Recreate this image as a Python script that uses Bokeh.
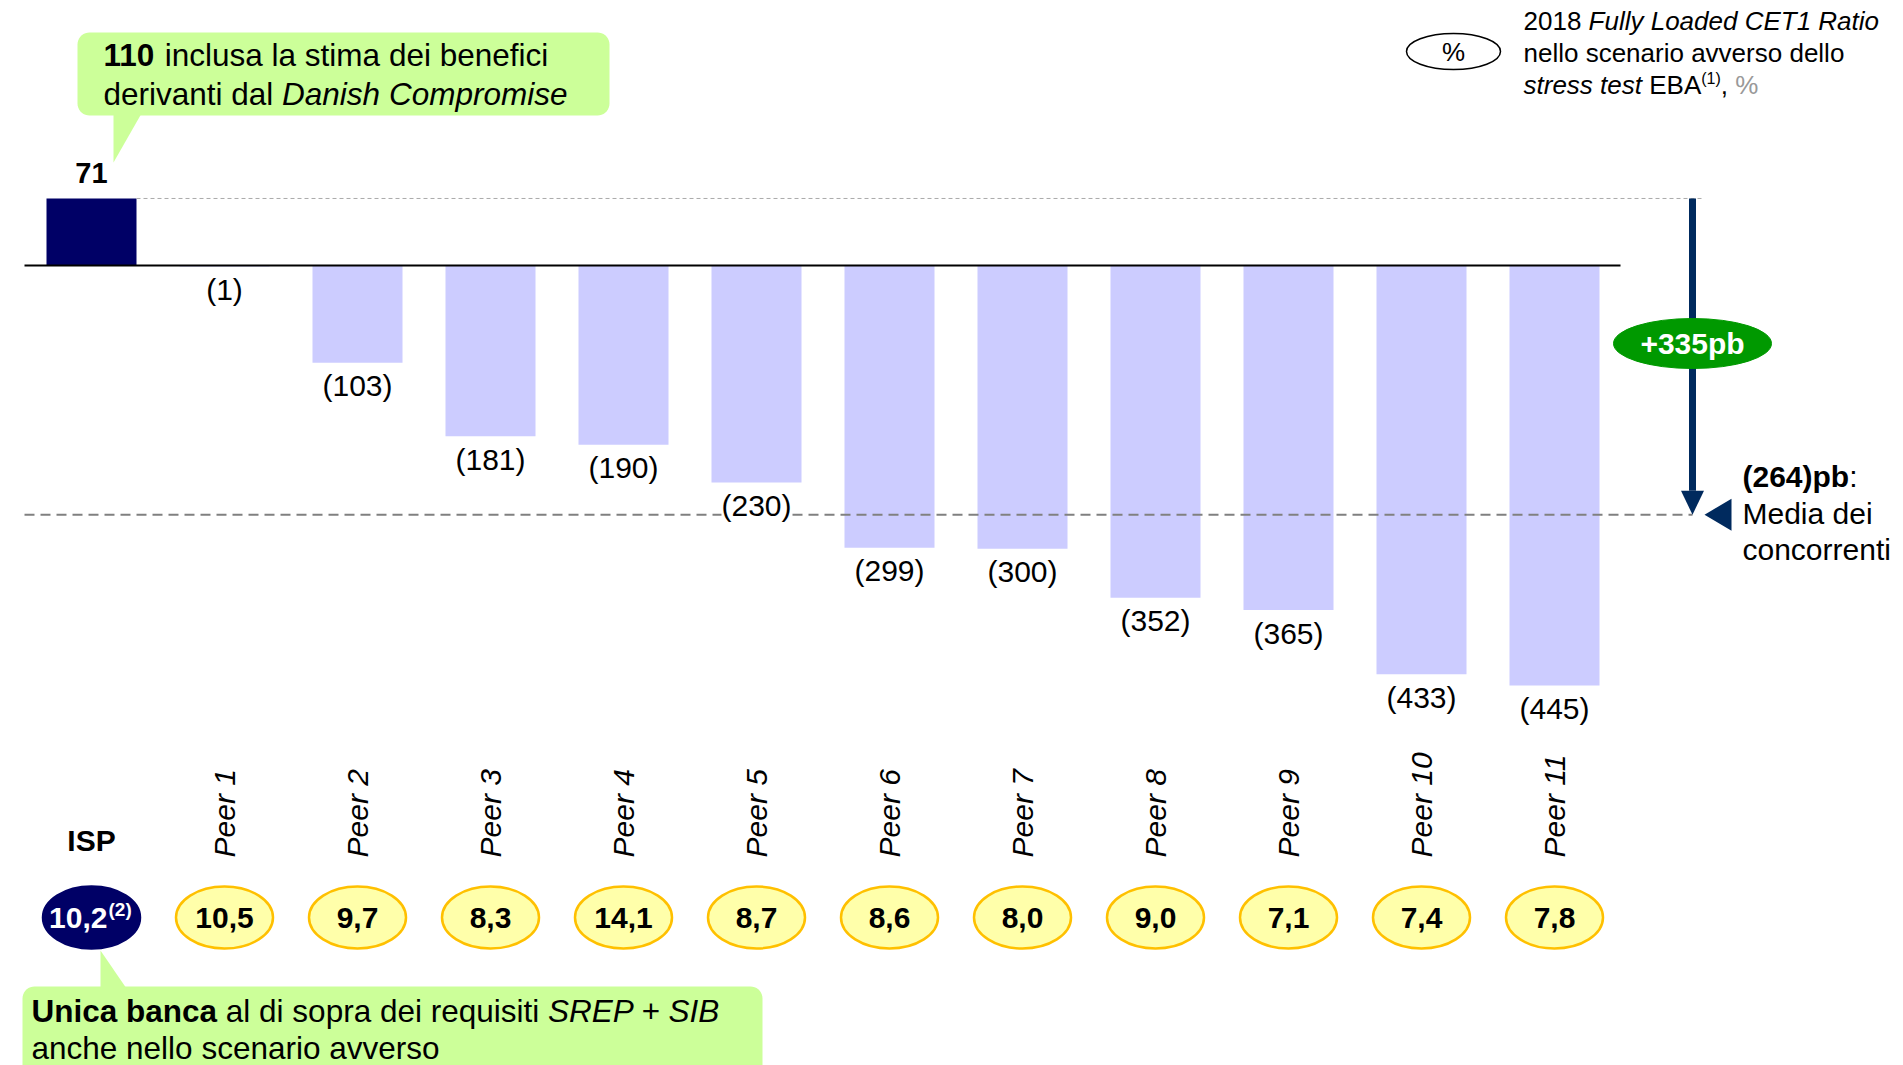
import numpy as np
from bokeh.plotting import figure
from bokeh.core.properties import value
from bokeh.models import ColumnDataSource
from bokeh.embed import file_html
from bokeh.resources import INLINE

# ---------------- data ----------------
categories = ["ISP", "Peer 1", "Peer 2", "Peer 3", "Peer 4", "Peer 5", "Peer 6",
              "Peer 7", "Peer 8", "Peer 9", "Peer 10", "Peer 11"]
delta_bp = [71, -1, -103, -181, -190, -230, -299, -300, -352, -365, -433, -445]
cet1_ratio = ["10,2", "10,5", "9,7", "8,3", "14,1", "8,7", "8,6", "8,0", "9,0", "7,1", "7,4", "7,8"]
peer_avg_bp = -264
gap_bp = 335
danish_bp = 110

FONT = "Liberation Sans"
NAVY = "#000066"
PEER = "#CCCCFF"
ARROW = "#002A5E"
GREEN_BOX = "#CCFF99"

# ---------------- geometry ----------------
W, H = 1903, 1065
M = 0
X_PX = 133.0      # px per category
X0_PAGE = 91.0    # page x of first bar centre
Y_PX = 0.944      # px per bp
Y0_PAGE = 265.0   # page y of zero line

x_start = -(X0_PAGE - M) / X_PX
x_end = x_start + W / X_PX
y_end = (Y0_PAGE - M) / Y_PX
y_start = y_end - H / Y_PX


def dx(xp):
    return x_start + (xp - M) / X_PX


def dy(yp):
    return y_end - (yp - M) / Y_PX


def page_y(v):
    return Y0_PAGE - v * Y_PX


def corr(size):
    # empirical shift of rendered alphabetic baseline
    return 0.38 * size


p = figure(width=W, height=H, x_range=(x_start, x_end), y_range=(y_start, y_end),
           output_backend="svg", toolbar_location=None,
           x_axis_location=None, y_axis_location=None, min_border=0,
           outline_line_color=None, background_fill_color="white",
           border_fill_color="white")
p.grid.visible = False

# ---------------- text helpers ----------------
REG = {' ': 278, '!': 278, '%': 889, '(': 333, ')': 333, '+': 584, ',': 278, '-': 333,
       '.': 278, ':': 278,
       'A': 667, 'B': 667, 'C': 722, 'D': 722, 'E': 667, 'F': 611, 'G': 778, 'H': 722,
       'I': 278, 'J': 500, 'K': 667, 'L': 556, 'M': 833, 'N': 722, 'O': 778, 'P': 667,
       'Q': 778, 'R': 722, 'S': 667, 'T': 611, 'U': 722, 'V': 667, 'W': 944, 'X': 667,
       'Y': 667, 'Z': 611,
       'a': 556, 'b': 556, 'c': 500, 'd': 556, 'e': 556, 'f': 278, 'g': 556, 'h': 556,
       'i': 222, 'j': 222, 'k': 500, 'l': 222, 'm': 833, 'n': 556, 'o': 556, 'p': 556,
       'q': 556, 'r': 333, 's': 500, 't': 278, 'u': 556, 'v': 500, 'w': 722, 'x': 500,
       'y': 500, 'z': 500}
BOLD = dict(REG)
BOLD.update({':': 333, 'A': 722, 'B': 722, 'L': 611, 'b': 611, 'c': 556, 'd': 611,
             'f': 333, 'g': 611, 'h': 611, 'i': 278, 'j': 278, 'k': 556, 'l': 278,
             'm': 889, 'n': 611, 'o': 611, 'p': 611, 'q': 611, 'r': 389, 's': 556,
             't': 333, 'u': 611, 'v': 556, 'w': 778, 'x': 556, 'y': 556})
for d in "0123456789":
    REG[d] = 556
    BOLD[d] = 556


def tw(s, size, bold=False):
    tab = BOLD if bold else REG
    return sum(tab.get(c, 556) for c in s) * size / 1000.0


def runs_text(x_page, y_page, runs):
    x = x_page
    for s, style, size, color, rise in runs:
        bold = style == "bold"
        lead = len(s) - len(s.lstrip())
        xs = x + tw(s[:lead], size, bold)
        p.text(x=[dx(xs)], y=[dy(y_page - rise - corr(size))], text=[s.strip()],
               text_align="left", text_baseline="alphabetic",
               text_font=value(FONT), text_font_style=style,
               text_font_size=f"{size}px", text_color=color)
        x += tw(s, size, bold)


def rounded_box(x0, y0, x1, y1, r, color):
    xs, ys = [], []
    corners = [(x1 - r, y0 + r, -90, 0), (x1 - r, y1 - r, 0, 90),
               (x0 + r, y1 - r, 90, 180), (x0 + r, y0 + r, 180, 270)]
    for cx, cy, a0, a1 in corners:
        t = np.radians(np.linspace(a0, a1, 10))
        xs.extend(cx + r * np.cos(t))
        ys.extend(cy + r * np.sin(t))
    p.patch([dx(v) for v in xs], [dy(v) for v in ys], fill_color=color, line_color=None)


def tri(pts, color):
    p.patch([dx(a) for a, b in pts], [dy(b) for a, b in pts], fill_color=color,
            line_color=None)


idx = list(range(len(categories)))

# ---------------- bars ----------------
src = ColumnDataSource(dict(x=idx, top=delta_bp,
                            color=[NAVY] + [PEER] * (len(idx) - 1)))
p.vbar(x="x", top="top", bottom=0, width=90 / X_PX, fill_color="color",
       line_color=None, source=src)

# reference lines
p.segment(x0=[dx(136)], y0=[delta_bp[0]], x1=[dx(1704)], y1=[delta_bp[0]],
          line_color="#AAAAAA", line_width=1, line_dash="4 3")
p.segment(x0=[dx(24)], y0=[peer_avg_bp], x1=[dx(1692)], y1=[peer_avg_bp],
          line_color="#808080", line_width=2, line_dash="10 6")
p.segment(x0=[dx(24)], y0=[0], x1=[dx(1620)], y1=[0], line_color="black", line_width=2)

# value labels
p.text(x=[0], y=[delta_bp[0]], text=[str(delta_bp[0])], text_align="center",
       text_baseline="alphabetic", y_offset=-25, text_font=value(FONT),
       text_font_style="bold", text_font_size="29px", text_color="black")
neg_src = ColumnDataSource(dict(x=idx[1:], y=delta_bp[1:],
                                t=[f"({-v})" for v in delta_bp[1:]]))
p.text(x="x", y="y", text="t", source=neg_src, text_align="center",
       text_baseline="alphabetic", y_offset=23, text_font=value(FONT),
       text_font_size="30px", text_color="black", background_fill_color="white")

# category labels
cat_src = ColumnDataSource(dict(x=idx[1:], y=[dy(857)] * (len(idx) - 1), t=categories[1:]))
p.text(x="x", y="y", text="t", source=cat_src, angle=np.pi / 2, text_align="left",
       text_baseline="middle", text_font=value(FONT), text_font_style="italic",
       text_font_size="30px", text_color="black")
p.text(x=[0], y=[dy(840)], text=[categories[0]], text_align="center", text_baseline="middle",
       text_font=value(FONT), text_font_style="bold", text_font_size="30px",
       text_color="black")

# CET1 ellipses
p.ellipse(x=idx, y=[dy(917)] * len(idx), width=97 / X_PX, height=62 / Y_PX,
          fill_color=[NAVY] + ["#FFFFAA"] * (len(idx) - 1),
          line_color=[NAVY] + ["#FFC000"] * (len(idx) - 1), line_width=2.5)
cet_src = ColumnDataSource(dict(x=idx[1:], y=[dy(917)] * (len(idx) - 1), t=cet1_ratio[1:]))
p.text(x="x", y="y", text="t", source=cet_src, text_align="center", text_baseline="middle",
       text_font=value(FONT), text_font_style="bold", text_font_size="30px",
       text_color="black")
p.text(x=[0], y=[dy(917)], text=[cet1_ratio[0]], text_align="right", text_baseline="middle",
       x_offset=16, text_font=value(FONT), text_font_style="bold", text_font_size="30px",
       text_color="white")
p.text(x=[0], y=[dy(916 - corr(19))], text=["(2)"], text_align="left",
       text_baseline="alphabetic", x_offset=17, text_font=value(FONT),
       text_font_style="bold", text_font_size="19px", text_color="white")

# ---------------- top callout ----------------
rounded_box(77, 32, 609, 115, 12, GREEN_BOX)
tri([(113, 113), (141, 113), (113, 162)], GREEN_BOX)
runs_text(103, 66, [(str(danish_bp), "bold", 31.5, "black", 0),
                    (" inclusa la stima dei benefici", "normal", 31.5, "black", 0)])
runs_text(103, 105, [("derivanti dal ", "normal", 31.5, "black", 0),
                     ("Danish Compromise", "italic", 31.5, "black", 0)])

# ---------------- bottom callout ----------------
rounded_box(22, 986, 762, 1100, 12, GREEN_BOX)
tri([(100, 950), (100, 988), (126, 988)], GREEN_BOX)
runs_text(31, 1022, [("Unica banca", "bold", 31.5, "black", 0),
                     (" al di sopra dei requisiti ", "normal", 31.5, "black", 0),
                     ("SREP + SIB", "italic", 31.5, "black", 0)])
runs_text(31, 1059, [("anche nello scenario avverso", "normal", 31.5, "black", 0)])

# ---------------- legend (top right) ----------------
p.ellipse(x=[dx(1453)], y=[dy(51)], width=94 / X_PX, height=36 / Y_PX,
          fill_color=None, line_color="black", line_width=1.5)
p.text(x=[dx(1453)], y=[dy(51)], text=["%"], text_align="center", text_baseline="middle",
       text_font=value(FONT), text_font_size="26px", text_color="black")
runs_text(1523, 30, [("2018 ", "normal", 26, "black", 0),
                     ("Fully Loaded CET1 Ratio", "italic", 26, "black", 0)])
runs_text(1523, 62, [("nello scenario avverso dello", "normal", 26, "black", 0)])
runs_text(1523, 94, [("stress test", "italic", 26, "black", 0),
                     (" EBA", "normal", 26, "black", 0),
                     ("(1)", "normal", 16, "black", 10),
                     (", ", "normal", 26, "black", 0),
                     ("%", "normal", 26, "#999999", 0)])

# ---------------- arrow and gap ----------------
ax = dx(1692)
head_base = peer_avg_bp + 24 / Y_PX
p.segment(x0=[ax], y0=[delta_bp[0]], x1=[ax], y1=[head_base], line_color=ARROW,
          line_width=7)
ya = page_y(peer_avg_bp)
tri([(1680.5, ya - 24), (1703.5, ya - 24), (1692, ya)], ARROW)
tri([(1704, ya), (1731, ya - 16), (1731, ya + 16)], ARROW)

p.ellipse(x=[ax], y=[dy(343)], width=158 / X_PX, height=50 / Y_PX, fill_color="#009900",
          line_color="#009900")
p.text(x=[ax], y=[dy(343)], text=[f"+{gap_bp}pb"], text_align="center",
       text_baseline="middle", text_font=value(FONT), text_font_style="bold",
       text_font_size="30px", text_color="white")

runs_text(1742, ya - 27, [(f"({-peer_avg_bp})pb", "bold", 30, "black", 0),
                          (":", "normal", 30, "black", 0)])
runs_text(1742, ya + 10, [("Media dei", "normal", 30, "black", 0)])
runs_text(1742, ya + 46, [("concorrenti", "normal", 30, "black", 0)])

open("out.html", "w").write(file_html(p, INLINE))
